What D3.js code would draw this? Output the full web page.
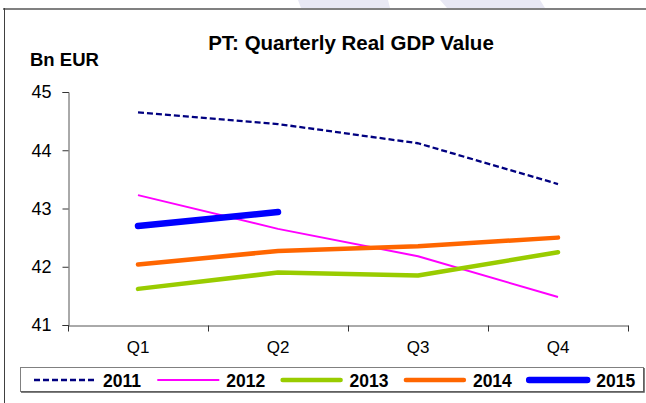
<!DOCTYPE html>
<html>
<head>
<meta charset="utf-8">
<script src="https://cdn.jsdelivr.net/npm/d3@7"></script>
<style>
  body { margin: 0; background: #fff; }
  svg { display: block; font-family: "Liberation Sans", Arial, sans-serif; }
</style>
</head>
<body>
<svg width="646" height="403"></svg>
<script>
const quarters = ['Q1', 'Q2', 'Q3', 'Q4'];
const years = ['2011', '2012', '2013', '2014', '2015'];
const gdp2011 = [44.65, 44.45, 44.12, 43.42];
const gdp2012 = [43.23, 42.65, 42.18, 41.48];
const gdp2013 = [41.62, 41.90, 41.85, 42.25];
const gdp2014 = [42.04, 42.27, 42.35, 42.50];
const gdp2015 = [42.70, 42.94];
const yTicks = [41, 42, 43, 44, 45];

const seriesStyle = {
    '2011': { color: '#000080', width: 2.3, dash: '6,3', cap: 'butt' },
    '2012': { color: '#ff00ff', width: 2, dash: null, cap: 'butt' },
    '2013': { color: '#99cc00', width: 4.5, dash: null, cap: 'round' },
    '2014': { color: '#ff6600', width: 4.5, dash: null, cap: 'round' },
    '2015': { color: '#0000ff', width: 6.5, dash: null, cap: 'round' }
};

var series = [gdp2011, gdp2012, gdp2013, gdp2014, gdp2015].map((vals, i) => ({
    year: years[i],
    values: vals.map((v, j) => ({ q: quarters[j], v: v }))
}));

var svg = d3.select('svg');

/* faint watermark on top strip */
svg.append('g').selectAll('polygon')
    .data([[[298, 0], [388, 0], [390, 8], [301, 8]], [[440, 0], [540, 0], [545, 8], [447, 8]]])
    .join('polygon')
    .attr('points', d => d.join(' '))
    .attr('fill', '#e8e8f4');

/* frame */
svg.append('line').attr('x1', 3).attr('x2', 646).attr('y1', 9).attr('y2', 9)
    .attr('stroke', '#808080').attr('stroke-width', 2);
svg.append('line').attr('x1', 4.5).attr('x2', 4.5).attr('y1', 8).attr('y2', 403)
    .attr('stroke', '#404040').attr('stroke-width', 1);

var x = d3.scaleBand()
    .domain(quarters)
    .range([68, 628])
    .padding(0);

var y = d3.scaleLinear()
    .domain([41, 45])
    .range([325, 92]);

/* Y axis */
var yAxis = svg.append('g')
    .attr('transform', 'translate(68.5,0)')
    .call(d3.axisLeft(y).tickValues(yTicks).tickSize(6).tickPadding(11).tickFormat(d3.format('d')));
yAxis.select('.domain').attr('stroke', '#555');
yAxis.selectAll('.tick line').attr('stroke', '#333');
yAxis.selectAll('text').attr('font-size', 18).attr('fill', '#000')
    .attr('font-family', '"Liberation Sans", Arial, sans-serif');

/* X axis */
var xAxis = svg.append('g')
    .attr('transform', 'translate(0,325.5)')
    .call(d3.axisBottom(x).tickSize(0).tickPadding(15));
xAxis.select('.domain').attr('stroke', '#555');
xAxis.selectAll('text').attr('font-size', 17).attr('fill', '#000')
    .attr('font-family', '"Liberation Sans", Arial, sans-serif');
xAxis.selectAll('.bnd')
    .data(quarters.concat(['end']))
    .join('line')
    .attr('x1', (d, i) => Math.round(i < 4 ? x(d) : x.range()[1]) + 0.5)
    .attr('x2', (d, i) => Math.round(i < 4 ? x(d) : x.range()[1]) + 0.5)
    .attr('y1', 0).attr('y2', 6)
    .attr('stroke', '#333');

/* Lines */
var line = d3.line()
    .x(d => x(d.q) + x.bandwidth() / 2)
    .y(d => y(d.v));

svg.append('g').selectAll('path')
    .data(series)
    .join('path')
    .attr('fill', 'none')
    .attr('stroke', d => seriesStyle[d.year].color)
    .attr('stroke-width', d => seriesStyle[d.year].width)
    .attr('stroke-dasharray', d => seriesStyle[d.year].dash)
    .attr('stroke-linecap', d => seriesStyle[d.year].cap)
    .attr('stroke-linejoin', 'round')
    .attr('d', d => line(d.values));

/* Titles */
svg.append('text')
    .attr('x', 351).attr('y', 50)
    .attr('text-anchor', 'middle')
    .attr('font-size', 20.5).attr('font-weight', 'bold')
    .text('PT: Quarterly Real GDP Value');

svg.append('text')
    .attr('x', 30).attr('y', 66)
    .attr('font-size', 18.5).attr('font-weight', 'bold')
    .text('Bn EUR');

/* Legend */
var legend = svg.append('g');
legend.append('rect')
    .attr('x', 20.5).attr('y', 367.5).attr('width', 623).attr('height', 24)
    .attr('fill', '#fff').attr('stroke', '#808080').attr('stroke-width', 1);
legend.append('polyline')
    .attr('points', '21,392 644,392 644,368')
    .attr('fill', 'none').attr('stroke', '#555').attr('stroke-width', 1.5);

var item = legend.selectAll('.item')
    .data(years)
    .join('g')
    .attr('transform', (d, i) => 'translate(' + (34 + i * 123.3) + ',380)');

item.append('line')
    .attr('x1', d => seriesStyle[d].cap === 'round' ? 2 : 0)
    .attr('x2', d => seriesStyle[d].cap === 'round' ? 60 : 62)
    .attr('stroke', d => seriesStyle[d].color)
    .attr('stroke-width', d => seriesStyle[d].width)
    .attr('stroke-dasharray', d => seriesStyle[d].dash)
    .attr('stroke-linecap', d => seriesStyle[d].cap);

item.append('text')
    .attr('x', 69).attr('y', 6.5)
    .attr('font-size', 17.5).attr('font-weight', 'bold')
    .text(d => d);
</script>
</body>
</html>
